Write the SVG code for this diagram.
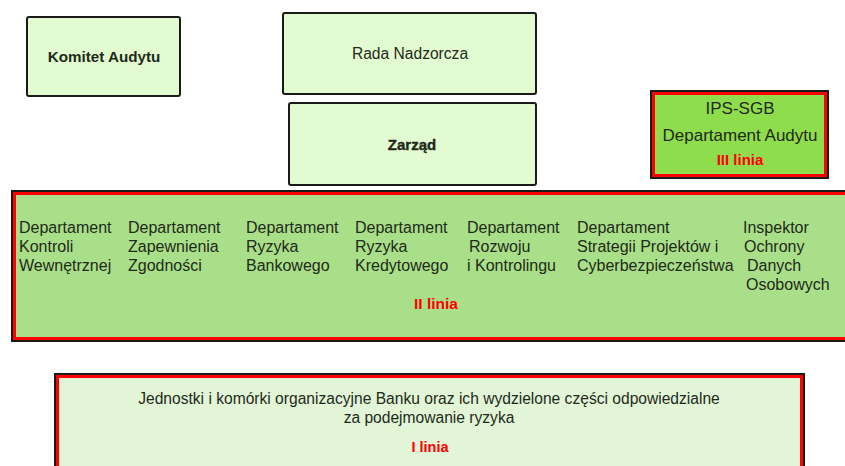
<svg xmlns="http://www.w3.org/2000/svg" width="845" height="466" viewBox="0 0 845 466">
<style>
.box{fill:#e3fbd0;stroke:#1a1a1a;stroke-width:2}
.red{stroke:#ff0000;stroke-width:3}
.t{font-family:"Liberation Sans",Arial,sans-serif;font-size:14px;fill:#1f2a1a}
.b{font-weight:bold}
.c{text-anchor:middle}
.r{fill:#ff0000;font-weight:bold;font-size:15px}
.d{font-size:16px}
</style>
<rect width="845" height="466" fill="#ffffff"/>
<g id="komitet-audytu">
<rect class="box" x="27" y="17" width="153" height="79" rx="2"/>
<text class="t b c" x="104" y="62" style="font-size:15.2px">Komitet Audytu</text>
</g>
<g id="rada-nadzorcza">
<rect class="box" x="283" y="13" width="253" height="81" rx="2"/>
<text class="t c" x="410" y="59" style="font-size:15.6px">Rada Nadzorcza</text>
</g>
<g id="zarzad">
<rect class="box" x="289" y="103" width="247" height="82" rx="2"/>
<text class="t b c" x="412" y="150" style="font-size:15px" stroke="#1f2a1a" stroke-width="0.4">Zarząd</text>
</g>
<g id="ips-sgb">
<rect x="651" y="91" width="177" height="87" fill="#8fdc4c" stroke="#1a1a1a" stroke-width="2"/>
<rect x="653.5" y="93.5" width="172" height="82" fill="none" class="red"/>
<text class="t c" x="740" y="114" style="font-size:17px">IPS-SGB</text>
<text class="t c" x="740" y="141" style="font-size:17px">Departament Audytu</text>
<text class="t r c" x="740" y="165">III linia</text>
</g>
<g id="ii-linia">
<rect x="12" y="191" width="850" height="150" fill="#a9df88" stroke="#1a1a1a" stroke-width="2"/>
<rect x="14.5" y="193.5" width="845" height="145" fill="none" class="red"/>
<text class="t d">
<tspan x="19" y="233">Departament</tspan><tspan x="19" y="252">Kontroli</tspan><tspan x="19" y="271">Wewnętrznej</tspan>
</text>
<text class="t d">
<tspan x="128" y="233">Departament</tspan><tspan x="128" y="252">Zapewnienia</tspan><tspan x="128" y="271">Zgodności</tspan>
</text>
<text class="t d">
<tspan x="246" y="233">Departament</tspan><tspan x="246" y="252">Ryzyka</tspan><tspan x="246" y="271">Bankowego</tspan>
</text>
<text class="t d">
<tspan x="355" y="233">Departament</tspan><tspan x="355" y="252">Ryzyka</tspan><tspan x="355" y="271">Kredytowego</tspan>
</text>
<text class="t d">
<tspan x="467" y="233">Departament</tspan><tspan x="469" y="252">Rozwoju</tspan><tspan x="467" y="271">i Kontrolingu</tspan>
</text>
<text class="t d">
<tspan x="577" y="233">Departament</tspan><tspan x="577" y="252">Strategii Projektów i</tspan><tspan x="577" y="271">Cyberbezpieczeństwa</tspan>
</text>
<text class="t d">
<tspan x="743" y="233">Inspektor</tspan><tspan x="744" y="252">Ochrony</tspan><tspan x="747" y="271">Danych</tspan><tspan x="746" y="290">Osobowych</tspan>
</text>
<text class="t r c" x="436" y="309" style="font-size:15.5px">II linia</text>
</g>
<g id="i-linia">
<rect x="55" y="374" width="749" height="100" fill="#e2f5d7" stroke="#1a1a1a" stroke-width="2"/>
<rect x="57.5" y="376.5" width="744" height="100" fill="none" class="red"/>
<text class="t c" x="429" y="404" style="font-size:15.6px">Jednostki i komórki organizacyjne Banku oraz ich wydzielone części odpowiedzialne</text>
<text class="t c" x="429" y="423" style="font-size:15.6px">za podejmowanie ryzyka</text>
<text class="t r c" x="430" y="452" style="font-size:14.5px">I linia</text>
</g>
<g id="connectors"></g>
</svg>
